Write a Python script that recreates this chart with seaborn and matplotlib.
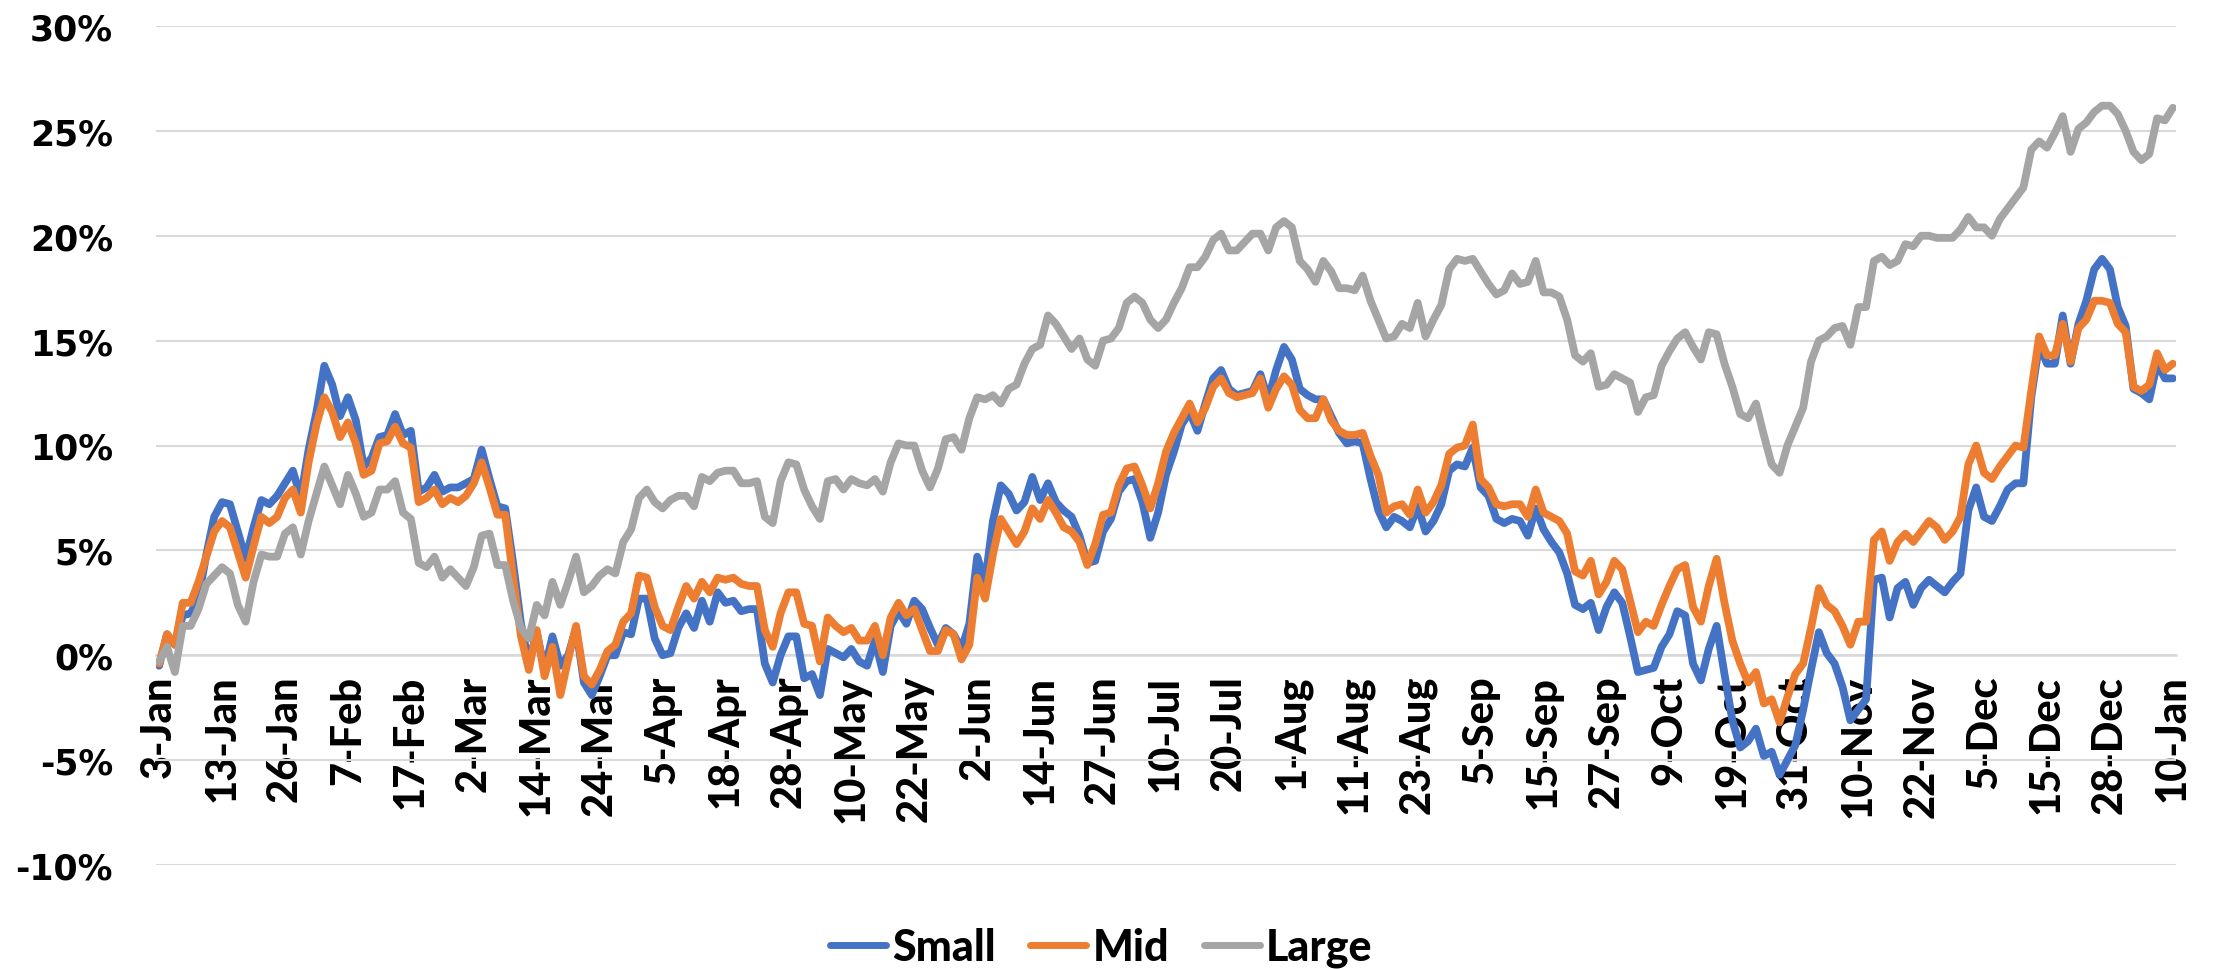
import numpy as np
import pandas as pd
import matplotlib
matplotlib.use("Agg")
import matplotlib.pyplot as plt
from matplotlib.lines import Line2D
import seaborn as sns

# ---------------- data (cumulative return, %) ----------------
tick_labels = ["3-Jan", "13-Jan", "26-Jan", "7-Feb", "17-Feb", "2-Mar", "14-Mar", "24-Mar",
               "5-Apr", "18-Apr", "28-Apr", "10-May", "22-May", "2-Jun", "14-Jun", "27-Jun",
               "10-Jul", "20-Jul", "1-Aug", "11-Aug", "23-Aug", "5-Sep", "15-Sep", "27-Sep",
               "9-Oct", "19-Oct", "31-Oct", "10-Nov", "22-Nov", "5-Dec", "15-Dec", "28-Dec", "10-Jan"]

small = [
    -0.5, 1.0, 0.5, 1.9, 2.0, 2.7, 4.8, 6.6, 7.3, 7.2, 5.9, 4.6, 6.1, 7.4, 7.2, 7.6, 8.2, 8.8, 7.5, 9.8,
    11.6, 13.8, 12.9, 11.4, 12.3, 11.2, 9.0, 9.4, 10.4, 10.5, 11.5, 10.5, 10.7, 7.8, 8.0, 8.6, 7.8, 8.0, 8.0, 8.2,
    8.4, 9.8, 8.4, 7.1, 7.0, 4.4, 1.5, -0.4, 1.1, -0.7, 0.9, -0.5, 0.0, 1.3, -1.3, -1.9, -1.0, 0.0, 0.0, 1.1,
    1.0, 2.7, 2.7, 0.8, 0.0, 0.1, 1.3, 2.0, 1.3, 2.6, 1.6, 3.0, 2.5, 2.6, 2.1, 2.2, 2.2, -0.4, -1.3, 0.0,
    0.9, 0.9, -1.1, -0.9, -1.9, 0.3, 0.1, -0.1, 0.3, -0.3, -0.5, 0.7, -0.8, 1.4, 2.1, 1.5, 2.6, 2.2, 1.3, 0.5,
    1.3, 1.0, 0.3, 1.5, 4.7, 3.5, 6.4, 8.1, 7.7, 6.9, 7.3, 8.5, 7.4, 8.2, 7.3, 6.9, 6.6, 5.7, 4.4, 4.5,
    5.9, 6.5, 7.8, 8.3, 8.4, 7.3, 5.6, 6.8, 8.6, 9.7, 11.0, 11.6, 10.7, 12.0, 13.2, 13.6, 12.7, 12.4, 12.5, 12.6,
    13.4, 12.2, 13.6, 14.7, 14.1, 12.7, 12.4, 12.2, 12.2, 11.4, 10.6, 10.1, 10.2, 10.1, 8.4, 6.9, 6.1, 6.6, 6.4, 6.1,
    7.1, 5.9, 6.4, 7.2, 8.8, 9.1, 9.0, 9.9, 8.0, 7.6, 6.5, 6.3, 6.5, 6.4, 5.7, 7.0, 6.0, 5.4, 4.9, 3.9,
    2.4, 2.2, 2.5, 1.2, 2.3, 3.0, 2.5, 0.9, -0.8, -0.7, -0.6, 0.4, 1.0, 2.1, 1.9, -0.4, -1.2, 0.3, 1.4, -0.9,
    -3.1, -4.4, -4.1, -3.5, -4.8, -4.6, -5.7, -5.0, -4.3, -2.6, -0.7, 1.1, 0.1, -0.4, -1.5, -3.1, -2.6, -2.1, 3.6, 3.7,
    1.8, 3.2, 3.5, 2.4, 3.2, 3.6, 3.3, 3.0, 3.5, 3.9, 6.9, 8.0, 6.6, 6.4, 7.1, 7.9, 8.2, 8.2, 12.3, 14.8,
    13.9, 13.9, 16.2, 13.9, 15.8, 16.9, 18.4, 18.9, 18.4, 16.6, 15.7, 12.7, 12.5, 12.2, 13.9, 13.2, 13.2,
]

mid = [
    -0.4, 1.0, 0.5, 2.5, 2.5, 3.5, 4.7, 5.9, 6.4, 6.1, 4.9, 3.7, 5.2, 6.6, 6.3, 6.6, 7.5, 7.9, 6.8, 9.2,
    11.0, 12.3, 11.6, 10.4, 11.1, 10.1, 8.6, 8.8, 10.1, 10.2, 10.9, 10.1, 9.9, 7.3, 7.5, 7.9, 7.2, 7.5, 7.3, 7.6,
    8.2, 9.2, 8.0, 6.7, 6.7, 3.7, 0.9, -0.7, 1.2, -1.0, 0.4, -1.9, -0.2, 1.4, -1.0, -1.4, -0.7, 0.2, 0.5, 1.6,
    2.0, 3.8, 3.7, 2.3, 1.4, 1.2, 2.3, 3.3, 2.7, 3.5, 3.0, 3.7, 3.6, 3.7, 3.4, 3.3, 3.3, 1.2, 0.4, 2.0,
    3.0, 3.0, 1.5, 1.4, -0.3, 1.8, 1.4, 1.1, 1.3, 0.7, 0.7, 1.4, 0.0, 1.8, 2.5, 1.9, 2.2, 1.2, 0.2, 0.2,
    1.2, 1.0, -0.2, 0.5, 3.7, 2.7, 4.8, 6.5, 5.9, 5.3, 5.9, 7.0, 6.5, 7.4, 6.8, 6.1, 5.9, 5.4, 4.3, 5.3,
    6.7, 6.8, 8.1, 8.9, 9.0, 8.1, 7.0, 8.2, 9.7, 10.6, 11.3, 12.0, 11.1, 11.8, 12.8, 13.2, 12.5, 12.3, 12.4, 12.5,
    13.2, 11.8, 12.7, 13.3, 12.9, 11.7, 11.3, 11.3, 12.2, 11.2, 10.7, 10.5, 10.5, 10.6, 9.5, 8.6, 6.8, 7.1, 7.2, 6.7,
    7.9, 6.8, 7.3, 8.1, 9.6, 9.9, 10.0, 11.0, 8.4, 8.0, 7.2, 7.1, 7.2, 7.2, 6.6, 7.9, 6.8, 6.6, 6.4, 5.8,
    4.0, 3.8, 4.5, 2.9, 3.5, 4.5, 4.1, 2.6, 1.1, 1.6, 1.4, 2.4, 3.3, 4.1, 4.3, 2.3, 1.6, 3.3, 4.6, 2.5,
    0.7, -0.4, -1.3, -0.8, -2.3, -2.1, -3.2, -2.0, -0.9, -0.4, 1.3, 3.2, 2.4, 2.1, 1.4, 0.5, 1.6, 1.6, 5.5, 5.9,
    4.5, 5.4, 5.8, 5.4, 5.9, 6.4, 6.1, 5.5, 5.9, 6.6, 9.1, 10.0, 8.7, 8.4, 9.0, 9.5, 10.0, 9.9, 12.6, 15.2,
    14.3, 14.3, 15.8, 14.0, 15.6, 16.0, 16.9, 16.9, 16.8, 15.8, 15.4, 12.8, 12.6, 12.9, 14.4, 13.6, 13.9,
]

large = [
    -0.3, 0.4, -0.8, 1.4, 1.4, 2.2, 3.4, 3.8, 4.2, 3.9, 2.4, 1.6, 3.5, 4.8, 4.7, 4.7, 5.8, 6.1, 4.8, 6.4,
    7.7, 9.0, 8.1, 7.2, 8.6, 7.7, 6.6, 6.8, 7.9, 7.9, 8.3, 6.8, 6.5, 4.4, 4.2, 4.7, 3.7, 4.1, 3.7, 3.3,
    4.2, 5.7, 5.8, 4.3, 4.3, 2.6, 1.3, 0.8, 2.4, 1.9, 3.5, 2.4, 3.5, 4.7, 3.0, 3.3, 3.8, 4.1, 3.9, 5.4,
    6.0, 7.5, 7.9, 7.3, 7.0, 7.4, 7.6, 7.6, 7.1, 8.5, 8.3, 8.7, 8.8, 8.8, 8.2, 8.2, 8.3, 6.6, 6.3, 8.3,
    9.2, 9.1, 7.9, 7.1, 6.5, 8.3, 8.4, 7.9, 8.4, 8.2, 8.1, 8.4, 7.8, 9.2, 10.1, 10.0, 10.0, 8.8, 8.0, 8.9,
    10.3, 10.4, 9.8, 11.3, 12.3, 12.2, 12.4, 12.0, 12.7, 12.9, 13.9, 14.6, 14.8, 16.2, 15.8, 15.2, 14.6, 15.1, 14.1, 13.8,
    15.0, 15.1, 15.6, 16.8, 17.1, 16.8, 16.0, 15.6, 16.0, 16.8, 17.5, 18.5, 18.5, 19.0, 19.8, 20.1, 19.3, 19.3, 19.7, 20.1,
    20.1, 19.3, 20.4, 20.7, 20.4, 18.8, 18.4, 17.8, 18.8, 18.3, 17.5, 17.5, 17.4, 18.1, 16.9, 16.0, 15.1, 15.2, 15.8, 15.6,
    16.8, 15.2, 16.0, 16.7, 18.4, 18.9, 18.8, 18.9, 18.3, 17.7, 17.2, 17.4, 18.2, 17.7, 17.8, 18.8, 17.3, 17.3, 17.1, 16.0,
    14.3, 14.0, 14.4, 12.8, 12.9, 13.4, 13.2, 13.0, 11.6, 12.3, 12.4, 13.8, 14.5, 15.1, 15.4, 14.7, 14.1, 15.4, 15.3, 13.9,
    12.8, 11.5, 11.3, 12.0, 10.5, 9.1, 8.7, 10.0, 10.9, 11.8, 14.0, 15.0, 15.2, 15.6, 15.7, 14.8, 16.6, 16.6, 18.8, 19.0,
    18.6, 18.8, 19.6, 19.5, 20.0, 20.0, 19.9, 19.9, 19.9, 20.3, 20.9, 20.4, 20.4, 20.0, 20.8, 21.3, 21.8, 22.3, 24.1, 24.5,
    24.2, 24.9, 25.7, 24.0, 25.1, 25.4, 25.9, 26.2, 26.2, 25.8, 25.0, 24.0, 23.6, 23.9, 25.6, 25.5, 26.1,
]

series_names = ["Small", "Mid", "Large"]
series_colors = ["#4472C4", "#ED7D31", "#A5A5A5"]
y_ticks = [-10, -5, 0, 5, 10, 15, 20, 25, 30]

# ---------------- build frame ----------------
n = len(small)
frames = []
for name, vals in zip(series_names, [small, mid, large]):
    frames.append(pd.DataFrame({"day": np.arange(len(vals)), "ret": vals, "series": name}))
df = pd.concat(frames, ignore_index=True)

sns.set_theme(style="white")
plt.rcParams["font.family"] = ["DejaVu Sans"]
plt.rcParams["text.color"] = "black"
plt.rcParams["xtick.labelcolor"] = "black"
plt.rcParams["ytick.labelcolor"] = "black"

W, H = 2219, 970
fig = plt.figure(figsize=(W / 100, H / 100), dpi=100)
left_px, right_px, top_px, bot_px = 156, 2176, 27, 866
ax = fig.add_axes([left_px / W, 1 - bot_px / H, (right_px - left_px) / W, (bot_px - top_px) / H])

sns.lineplot(data=df, x="day", y="ret", hue="series", hue_order=series_names,
             palette=series_colors, linewidth=5.6, ax=ax, legend=False, sort=True,
             estimator=None)
for ln in ax.lines:
    ln.set_solid_joinstyle("round")
    ln.set_solid_capstyle("round")

ax.set_xlim(-0.4, n - 1 + 0.4)
ax.set_ylim(-10, 30)
ax.set_yticks(y_ticks)
ax.set_yticklabels([f"{v}%" for v in y_ticks], fontsize=25, fontweight="bold",
                   family=["DejaVu Sans"], color="black")
ax.yaxis.grid(True, color="#D9D9D9", linewidth=1.5)
ax.xaxis.grid(False)
ax.set_axisbelow(True)
ax.set_xlabel("")
ax.set_ylabel("")

for s in ["top", "right", "left"]:
    ax.spines[s].set_visible(False)
ax.spines["bottom"].set_position(("data", 0))
ax.spines["bottom"].set_color("#D9D9D9")
ax.spines["bottom"].set_linewidth(1.8)
ax.spines["bottom"].set_zorder(0.5)

label_family = ["Lato", "DejaVu Sans"]
ax.set_xticks(np.arange(0, n, 8))
ax.set_xticks(np.arange(0, n, 1), minor=True)
ax.set_xticklabels(tick_labels, rotation=90, fontsize=30, fontweight=900,
                   family=label_family, va="top", ha="center", color="black")
ax.tick_params(axis="x", which="both", direction="out", length=10, width=1.5,
               color="#D9D9D9", pad=4)
ax.tick_params(axis="y", length=0, pad=31)

handles = [Line2D([0], [0], color=c, linewidth=5.0, solid_capstyle="round") for c in series_colors]
leg = fig.legend(handles, series_names, loc="center", bbox_to_anchor=(1101 / W, 1 - 948 / H),
                 ncol=3, frameon=False, handlelength=1.3, handletextpad=0.15, columnspacing=0.8,
                 labelcolor="black",
                 prop={"family": label_family, "weight": 900, "size": 31})

fig.savefig("out.png", dpi=100)
